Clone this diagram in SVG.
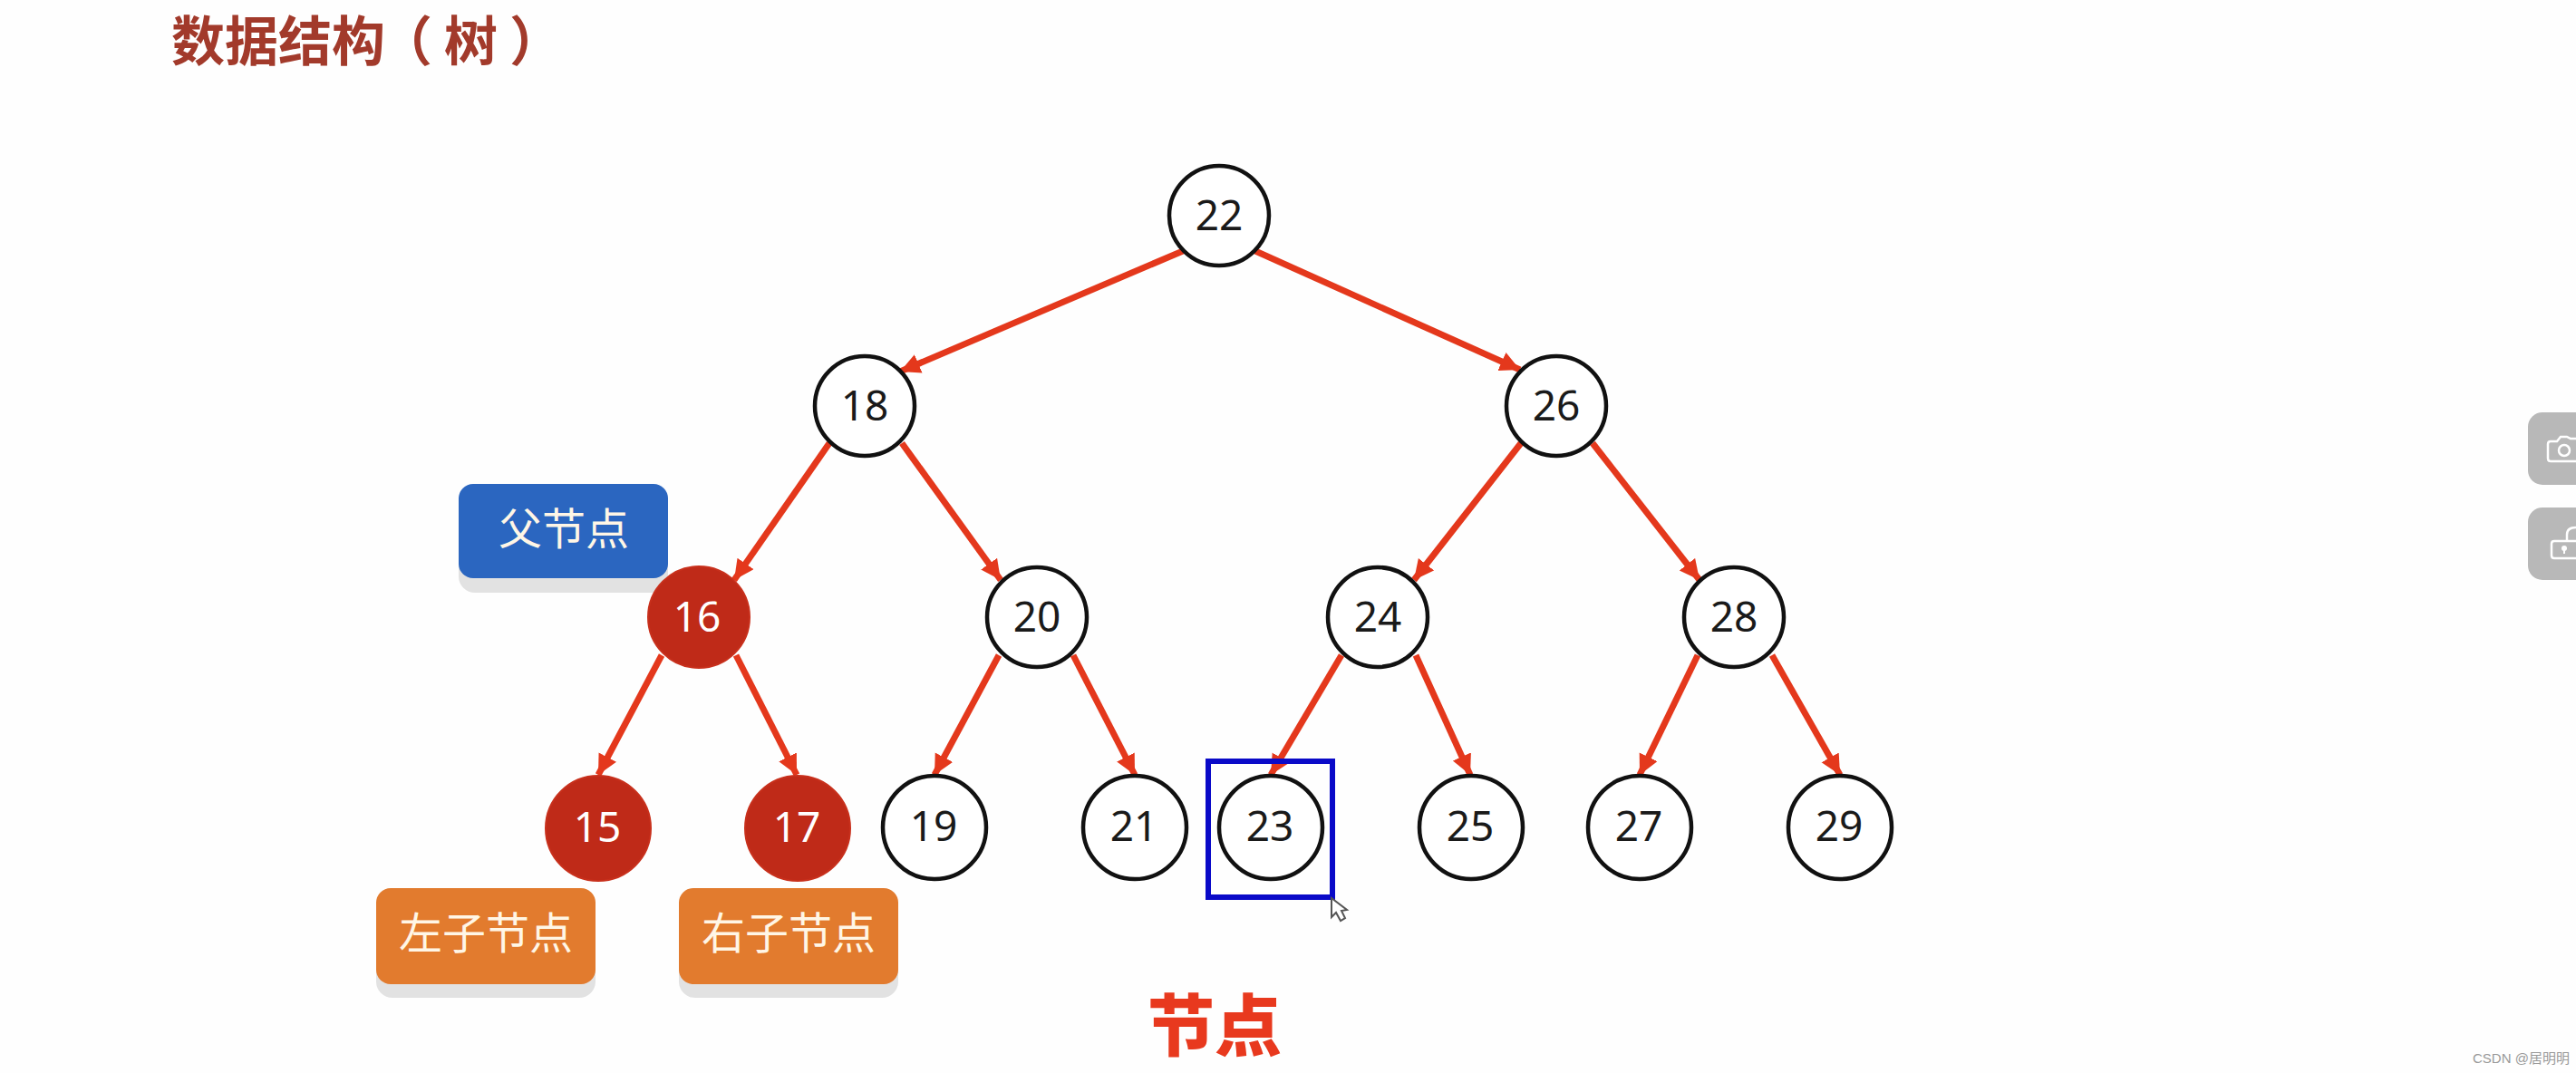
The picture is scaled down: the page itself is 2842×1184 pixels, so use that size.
<svg xmlns="http://www.w3.org/2000/svg" width="2842" height="1184" viewBox="0 0 2842 1184">
<style>
.n{fill:#fff;stroke:#111;stroke-width:4.5}
.r{fill:#bf2a18;stroke:#c8301c;stroke-width:2}
.t{font-family:"Noto Sans","Noto Sans CJK SC",sans-serif;font-size:46px;text-anchor:middle;fill:#1a1a1a}
.w{fill:#fff}
.e{stroke:#e4381c;stroke-width:7;fill:none;marker-end:url(#a)}
.l{font-family:"Noto Sans CJK SC",sans-serif;font-size:48px;text-anchor:middle;fill:#fff6e6}
.s{fill:#e2e2e2}
.b{fill:#b8b8b8}
.i{fill:none;stroke:#fff;stroke-width:2.5}
</style>
<defs>
<marker id="a" markerUnits="userSpaceOnUse" markerWidth="24" markerHeight="24" refX="22" refY="11" orient="auto">
<path d="M0 0L22 11L0 22z" fill="#e4381c"/>
</marker>
</defs>
<rect width="2842" height="1184" fill="#fefefe"/>
<text id="title" x="189 248 307 366 418 490 562" y="67" font-family="Noto Sans CJK SC,sans-serif" font-size="59" font-weight="700" fill="#a23a2b">数据结构（树）</text>
<g id="connectors">
<path class="e" d="M1305 277L993 410"/>
<path class="e" d="M1385 277L1677 408"/>
<path class="e" d="M915 489L810 640"/>
<path class="e" d="M995 489L1104 640"/>
<path class="e" d="M1678 489L1560 640"/>
<path class="e" d="M1757 489L1875 640"/>
<path class="e" d="M730 723L660 855"/>
<path class="e" d="M812 723L879 855"/>
<path class="e" d="M1102 723L1031 855"/>
<path class="e" d="M1184 723L1252 855"/>
<path class="e" d="M1480 723L1402 855"/>
<path class="e" d="M1562 723L1622 855"/>
<path class="e" d="M1873 723L1809 855"/>
<path class="e" d="M1955 723L2030 855"/>
</g>
<g id="label-parent"><rect class="s" x="506" y="551" width="231" height="103" rx="18"/><rect x="506" y="534" width="231" height="104" rx="16" fill="#2b66c0"/><text class="l" x="622" y="601">父节点</text></g>
<g id="label-left"><rect class="s" x="415" y="998" width="242" height="103" rx="18"/><rect x="415" y="980" width="242" height="106" rx="16" fill="#e27b2e"/><text class="l" x="536" y="1047">左子节点</text></g>
<g id="label-right"><rect class="s" x="749" y="998" width="242" height="103" rx="18"/><rect x="749" y="980" width="242" height="106" rx="16" fill="#e27b2e"/><text class="l" x="870" y="1047">右子节点</text></g>
<g id="n22"><circle class="n" cx="1345" cy="238" r="55"/><text class="t" x="1345" y="254">22</text></g>
<g id="n18"><circle class="n" cx="954" cy="448" r="55"/><text class="t" x="954" y="464">18</text></g>
<g id="n26"><circle class="n" cx="1717" cy="448" r="55"/><text class="t" x="1717" y="464">26</text></g>
<g id="n16"><circle class="r" cx="771" cy="681" r="56"/><text class="t w" x="769" y="697">16</text></g>
<g id="n20"><circle class="n" cx="1144" cy="681" r="55"/><text class="t" x="1144" y="697">20</text></g>
<g id="n24"><circle class="n" cx="1520" cy="681" r="55"/><text class="t" x="1520" y="697">24</text></g>
<g id="n28"><circle class="n" cx="1913" cy="681" r="55"/><text class="t" x="1913" y="697">28</text></g>
<g id="n15"><circle class="r" cx="660" cy="914" r="58"/><text class="t w" x="659" y="929">15</text></g>
<g id="n17"><circle class="r" cx="880" cy="914" r="58"/><text class="t w" x="879" y="929">17</text></g>
<g id="n19"><circle class="n" cx="1031" cy="913" r="57"/><text class="t" x="1030" y="928">19</text></g>
<g id="n21"><circle class="n" cx="1252" cy="913" r="57"/><text class="t" x="1251" y="928">21</text></g>
<g id="n23"><circle class="n" cx="1402" cy="913" r="57"/><text class="t" x="1401" y="928">23</text></g>
<g id="n25"><circle class="n" cx="1623" cy="913" r="57"/><text class="t" x="1622" y="928">25</text></g>
<g id="n27"><circle class="n" cx="1809" cy="913" r="57"/><text class="t" x="1808" y="928">27</text></g>
<g id="n29"><circle class="n" cx="2030" cy="913" r="57"/><text class="t" x="2029" y="928">29</text></g>
<rect x="1333" y="840" width="137" height="150" fill="none" stroke="#0a0ac8" stroke-width="6"/>
<path d="M1469 991V1012L1474 1007L1479 1016L1484 1013L1480 1005L1486 1004z" fill="#fff" stroke="#555" stroke-width="2"/>
<text id="caption" x="1340" y="1159" font-family="Noto Sans CJK SC,sans-serif" font-size="74" font-weight="900" text-anchor="middle" fill="#e8391e">节点</text>
<g id="side">
<rect class="b" x="2789" y="455" width="80" height="80" rx="16"/>
<rect class="b" x="2789" y="560" width="80" height="80" rx="16"/>
<path class="i" d="M2845 484H2836L2832 482H2825L2821 487H2814Q2811 487 2811 490V506Q2811 509 2814 509H2845"/>
<circle class="i" cx="2829" cy="497" r="6"/>
<path class="i" d="M2845 597H2818Q2815 597 2815 600V613Q2815 616 2818 616H2845"/>
<path class="i" d="M2832 596V590Q2832 582 2842 582"/>
<circle cx="2829" cy="605" r="3" fill="#fff"/><rect x="2828" y="605" width="2" height="6" fill="#fff"/>
</g>
<text id="watermark" x="2728" y="1173" font-family="Liberation Sans,Noto Sans CJK SC,sans-serif" font-size="15" fill="#999">CSDN @居明明</text>
</svg>
